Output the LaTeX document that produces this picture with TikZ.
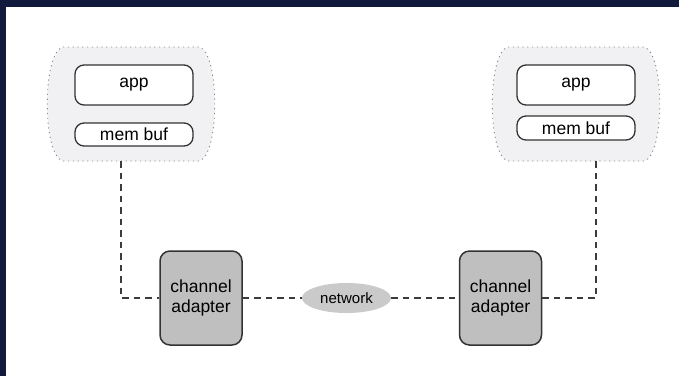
\documentclass[tikz,border=0pt]{standalone}
\usepackage{fontspec}
\setmainfont{Liberation Sans}
\usetikzlibrary{shapes.geometric}
\definecolor{frame}{HTML}{111A3C}
\definecolor{hostfill}{HTML}{F1F1F3}
\definecolor{hostline}{HTML}{8A8A8E}
\definecolor{boxline}{HTML}{333333}
\definecolor{adapterfill}{HTML}{BFBFBF}
\definecolor{netfill}{HTML}{CACACA}
\definecolor{wire}{HTML}{3C3C3C}
\tikzset{
  x=1pt, y=-1pt,
  hostarea/.style={fill=hostfill, draw=hostline, line width=0.9pt,
    dash pattern=on 1.2pt off 3.6pt},
  layerbox/.style={draw=boxline, fill=white, line width=1.3pt,
    rounded corners=9pt, inner sep=0pt,
    font=\fontsize{17.5}{20}\selectfont},
  adapter/.style={draw=boxline, fill=adapterfill, line width=1.5pt,
    rounded corners=10pt, inner sep=0pt, minimum width=82pt,
    minimum height=94pt, align=center,
    font=\fontsize{17.5}{20}\selectfont},
  netcloud/.style={ellipse, fill=netfill, inner sep=0pt,
    minimum width=89pt, minimum height=30pt,
    font=\fontsize{15}{17}\selectfont},
  wirelink/.style={draw=wire, line width=1.4pt, dash pattern=on 6.5pt off 5pt},
  pics/hostshape/.style={code={
    \path[hostarea] (-68,-57) -- (68,-57)
      .. controls (89,-52) and (89,52) .. (68,57) -- (-68,57)
      .. controls (-89,52) and (-89,-52) .. (-68,-57) -- cycle;
  }}
}
\begin{document}
\begin{tikzpicture}
  % page and frame
  \useasboundingbox (0,0) rectangle (679,376);
  \fill[white] (0,0) rectangle (679,376);
  \fill[frame] (0,0) rectangle (679,7);
  \fill[frame] (0,0) rectangle (6,376);

  % host areas
  \pic at (131,104) {hostshape};
  \pic at (576,104) {hostshape};

  % left host stack
  \node[layerbox, minimum width=118pt, minimum height=40pt] (lapp) at (134,85) {app};
  \node[layerbox, minimum width=118pt, minimum height=23pt] (lmem) at (134,134.5) {mem buf};

  % right host stack
  \node[layerbox, minimum width=118pt, minimum height=40pt] (rapp) at (576,85) {app};
  \node[layerbox, minimum width=118pt, minimum height=24pt] (rmem) at (576,128) {mem buf};

  % adapters and network
  \node[adapter] (lca) at (201,298) {channel\\adapter};
  \node[adapter] (rca) at (500.5,298) {channel\\adapter};
  \node[netcloud] (net) at (346.5,298) {network};

  % wire ends at the host areas
  \coordinate (ltap) at (121,161);
  \coordinate (rtap) at (596,161);

  % links
  \draw[wirelink] (ltap) |- (lca.west);
  \draw[wirelink] (lca.east) -- (net.west);
  \draw[wirelink] (net.east) -- (rca.west);
  \draw[wirelink] (rca.east) -| (rtap);
\end{tikzpicture}
\end{document}
